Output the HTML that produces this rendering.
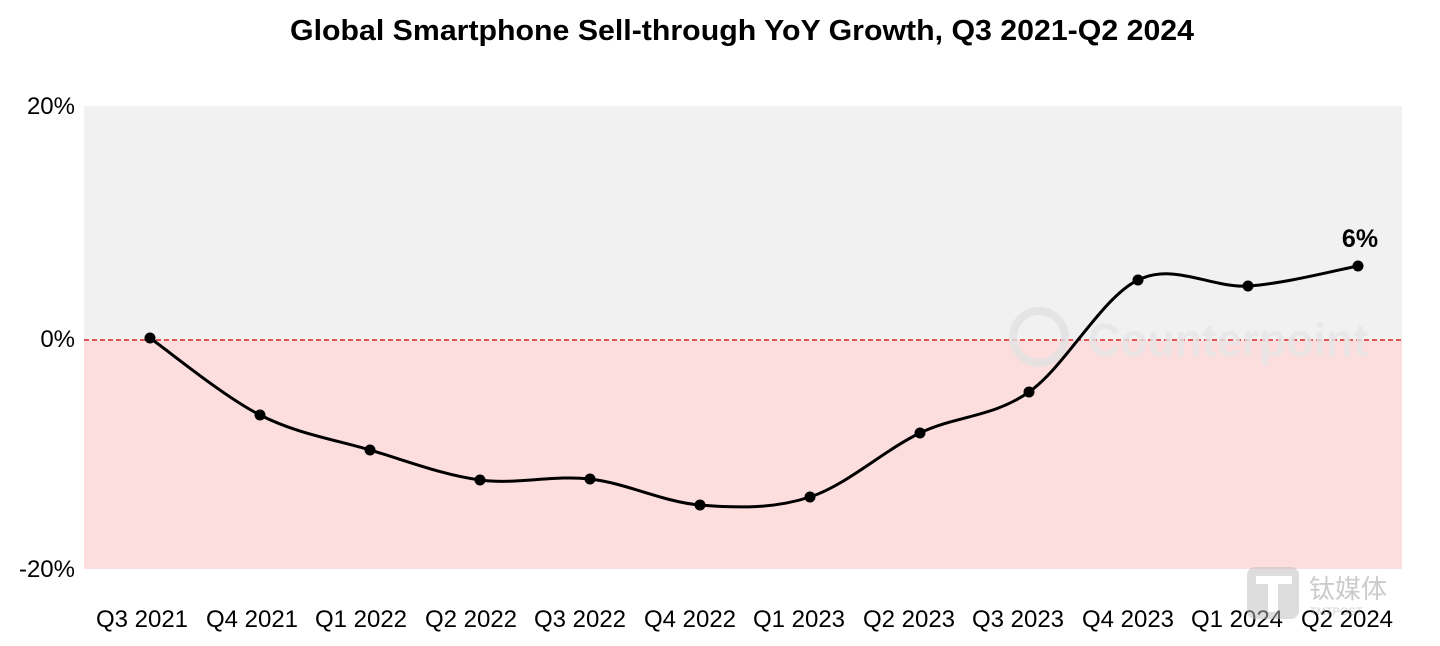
<!DOCTYPE html>
<html><head><meta charset="utf-8"><style>
html,body{margin:0;padding:0;background:#fff;}
svg{display:block;font-family:"Liberation Sans","Noto Sans CJK SC",sans-serif;}
</style></head><body>
<svg width="1440" height="646" viewBox="0 0 1440 646" xmlns="http://www.w3.org/2000/svg">
<text x="742" y="40" text-anchor="middle" font-size="29" font-weight="bold" fill="#000" textLength="904" lengthAdjust="spacingAndGlyphs">Global Smartphone Sell-through YoY Growth, Q3 2021-Q2 2024</text>
<rect x="84" y="106" width="1318" height="234" fill="#f1f1f1"/>
<rect x="84" y="340" width="1318" height="229" fill="#fddede"/>
<line x1="84" y1="340" x2="1402" y2="340" stroke="#d40000" stroke-width="1.2" stroke-dasharray="5,3"/>
<g opacity="0.8">
<circle cx="1039" cy="337" r="26" fill="none" stroke="#e2e2e2" stroke-width="8"/>
<text x="1088" y="356" font-size="46" font-weight="bold" fill="#e6e6e6" textLength="280" lengthAdjust="spacingAndGlyphs">Counterpoint</text>
</g>
<g font-size="24" fill="#000" text-anchor="end">
<text x="75" y="114">20%</text>
<text x="75" y="347">0%</text>
<text x="75" y="577">-20%</text>
</g>
<g font-size="24" fill="#000" text-anchor="middle">
<text x="142" y="627">Q3 2021</text>
<text x="252" y="627">Q4 2021</text>
<text x="361" y="627">Q1 2022</text>
<text x="471" y="627">Q2 2022</text>
<text x="580" y="627">Q3 2022</text>
<text x="690" y="627">Q4 2022</text>
<text x="799" y="627">Q1 2023</text>
<text x="909" y="627">Q2 2023</text>
<text x="1018" y="627">Q3 2023</text>
<text x="1128" y="627">Q4 2023</text>
<text x="1237" y="627">Q1 2024</text>
<text x="1347" y="627">Q2 2024</text>
</g>
<g opacity="0.5">
<rect x="1247" y="567" width="52" height="52" rx="8" fill="#bdbdbd"/>
<rect x="1256" y="576" width="36" height="8" fill="#fff"/>
<rect x="1268" y="576" width="10" height="36" fill="#fff"/>
<text x="1309" y="598" font-size="26" fill="#999">钛媒体</text>
<text x="1310" y="615" font-size="11" fill="#aaa">TMTPOST</text>
</g>
<path d="M150,338 C168.3,350.8 223.3,396.3 260,415 C296.7,433.7 333.3,439.2 370,450 C406.7,460.8 443.3,475.2 480,480 C516.7,484.8 553.3,474.8 590,479 C626.7,483.2 663.3,502 700,505 C736.7,508 773.3,509 810,497 C846.7,485 883.5,450.5 920,433 C956.5,415.5 992.7,417.5 1029,392 C1065.3,366.5 1101.5,297.7 1138,280 C1174.5,262.3 1211.3,288.3 1248,286 C1284.7,283.7 1339.7,269.3 1358,266" fill="none" stroke="#000" stroke-width="3"/>
<g fill="#000">
<circle cx="150" cy="338" r="5.5"/><circle cx="260" cy="415" r="5.5"/><circle cx="370" cy="450" r="5.5"/><circle cx="480" cy="480" r="5.5"/><circle cx="590" cy="479" r="5.5"/><circle cx="700" cy="505" r="5.5"/><circle cx="810" cy="497" r="5.5"/><circle cx="920" cy="433" r="5.5"/><circle cx="1029" cy="392" r="5.5"/><circle cx="1138" cy="280" r="5.5"/><circle cx="1248" cy="286" r="5.5"/><circle cx="1358" cy="266" r="5.5"/>
</g>
<text x="1360" y="247" text-anchor="middle" font-size="25" font-weight="bold" fill="#000">6%</text>
</svg>
</body></html>
